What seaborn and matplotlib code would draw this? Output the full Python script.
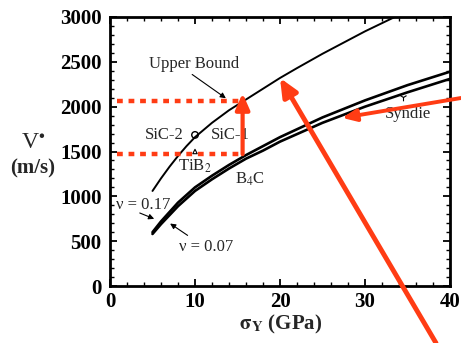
import matplotlib
matplotlib.use("Agg")
import matplotlib.pyplot as plt
import pandas as pd
import seaborn as sns
from matplotlib.ticker import MultipleLocator

# Upper-bound curve (yield strength in GPa, critical velocity in m/s)
sigma_upper = [5, 6, 7, 8, 9, 10, 12, 14, 16, 18, 20, 22, 25, 28, 30, 33.5]
v_upper = [1060, 1200, 1330, 1450, 1560, 1660, 1820, 1960, 2080, 2200, 2320,
           2430, 2590, 2740, 2840, 3000]

# Curves for two Poisson ratios
sigma_nu = [5, 6, 8, 10, 12, 14, 16, 18, 20, 25, 30, 35, 40]
v_nu017 = [600, 720, 930, 1100, 1230, 1350, 1460, 1560, 1660, 1880, 2070, 2240, 2390]
v_nu007 = [580, 690, 890, 1060, 1190, 1310, 1420, 1510, 1610, 1820, 2000, 2160, 2310]

# Highlighted velocity levels and strength
v_levels = [2060, 1470]
sigma_mark = 15.6

x_ticks = [0, 10, 20, 30, 40]
y_ticks = [0, 500, 1000, 1500, 2000, 2500, 3000]

RED = "#ff3c14"

sns.set_theme(style="ticks")
plt.rcParams["font.family"] = ["Liberation Serif", "DejaVu Serif"]
plt.rcParams["mathtext.fontset"] = "stix"
plt.rcParams.update({
    "xtick.direction": "in", "ytick.direction": "in",
    "xtick.top": True, "ytick.right": True,
    "xtick.minor.visible": True, "ytick.minor.visible": True,
    "xtick.major.size": 5, "ytick.major.size": 5,
    "xtick.minor.size": 3, "ytick.minor.size": 3,
    "xtick.color": "black", "ytick.color": "black",
})

fig = plt.figure(figsize=(4.61, 3.43), dpi=100)
ax = fig.add_axes([110 / 461, 1 - 286 / 343, 340 / 461, 269 / 343])

df = pd.concat([
    pd.DataFrame({"sigma": sigma_upper, "v": v_upper, "curve": "upper"}),
    pd.DataFrame({"sigma": sigma_nu, "v": v_nu017, "curve": "nu017"}),
    pd.DataFrame({"sigma": sigma_nu, "v": v_nu007, "curve": "nu007"}),
])
sns.lineplot(data=df[df.curve == "upper"], x="sigma", y="v", color="black",
             lw=1.4, ax=ax, legend=False)
sns.lineplot(data=df[df.curve == "nu017"], x="sigma", y="v", color="black",
             lw=1.9, ax=ax, legend=False)
sns.lineplot(data=df[df.curve == "nu007"], x="sigma", y="v", color="black",
             lw=1.9, ax=ax, legend=False)

# Material points
sns.scatterplot(x=[10], y=[1685], marker="o", s=22, facecolor="none",
                edgecolor="black", linewidth=1.0, ax=ax, legend=False)
sns.scatterplot(x=[10], y=[1500], marker="^", s=10, facecolor="none",
                edgecolor="black", linewidth=0.8, ax=ax, legend=False)
sns.scatterplot(x=[34.5], y=[2110], marker="1", s=30, color="black",
                linewidth=0.8, ax=ax, legend=False)

fs = 12
ax.text(9.9, 2480, "Upper Bound", ha="center", va="center", fontsize=fs)
ax.text(6.4, 1685, "SiC-2", ha="center", va="center", fontsize=fs)
ax.text(14.2, 1685, "SiC-1", ha="center", va="center", fontsize=fs)
ax.text(10.0, 1340, r"TiB$_2$", ha="center", va="center", fontsize=fs)
ax.text(16.5, 1190, r"B$_4$C", ha="center", va="center", fontsize=fs)
ax.text(35.1, 1920, "Syndie", ha="center", va="center", fontsize=fs)
ax.text(3.9, 905, "ν = 0.17", ha="center", va="center", fontsize=fs)
ax.text(11.3, 435, "ν = 0.07", ha="center", va="center", fontsize=fs)

arrow_k = dict(arrowstyle="-|>", color="black", lw=0.8, mutation_scale=8)
ax.annotate("", xy=(13.9, 2076), xytext=(9.4, 2377), arrowprops=arrow_k)
ax.annotate("", xy=(5.5, 737), xytext=(3.2, 826), arrowprops=arrow_k)
ax.annotate("", xy=(6.8, 714), xytext=(9.4, 547), arrowprops=arrow_k)

# Red overlays: dotted levels, range arrow and pointers
for lvl in v_levels:
    ax.plot([0.8, sigma_mark], [lvl, lvl], color=RED, lw=3.2,
            linestyle=(0, (1.3, 1.3)), solid_capstyle="butt")
ax.annotate("", xy=(sigma_mark, 2150), xytext=(sigma_mark, v_levels[1]),
            arrowprops=dict(arrowstyle="-|>,head_length=0.8,head_width=0.35",
                            color=RED, lw=3, shrinkA=0, shrinkB=0))
ax.annotate("", xy=(20.0, 2320), xytext=(436 / 461, 0.0),
            textcoords="figure fraction", annotation_clip=False,
            arrowprops=dict(arrowstyle="-|>,head_length=0.9,head_width=0.4",
                            color=RED, lw=3.5, shrinkA=0, shrinkB=0))
ax.annotate("", xy=(27.3, 1875), xytext=(1.0, 1 - 98 / 343),
            textcoords="figure fraction", annotation_clip=False,
            arrowprops=dict(arrowstyle="-|>,head_length=0.7,head_width=0.3",
                            color=RED, lw=2.8, shrinkA=0, shrinkB=0))

ax.set_xlim(0, 40)
ax.set_ylim(0, 3000)
ax.set_xticks(x_ticks)
ax.set_yticks(y_ticks)
ax.xaxis.set_minor_locator(MultipleLocator(2))
ax.yaxis.set_minor_locator(MultipleLocator(100))
ax.tick_params(which="both", direction="in", top=True, right=True,
               bottom=True, left=True, color="black")
ax.tick_params(which="major", length=5, width=1.3, labelsize=15, pad=4)
ax.tick_params(which="minor", length=3, width=1.0)
ax.tick_params(axis="y", which="major", pad=6)
for lab in ax.get_xticklabels() + ax.get_yticklabels():
    lab.set_fontweight("bold")
for s in ax.spines.values():
    s.set_linewidth(2.0)
    s.set_color("black")
ax.set_xlabel("")
ax.set_ylabel("")

# Axis titles
fig.text(33 / 461, 1 - 143 / 343, r"V$^{\bullet}$", ha="center", va="center",
         fontsize=17)
fig.text(33 / 461, 1 - 168 / 343, "(m/s)", ha="center", va="center",
         fontsize=15, fontweight="bold")
fig.text(281 / 461, 1 - 324 / 343, r"$\mathbf{\sigma}_{\mathbf{Y}}$ (GPa)",
         ha="center", va="center", fontsize=15, fontweight="bold")

fig.savefig("out.png", dpi=100)
